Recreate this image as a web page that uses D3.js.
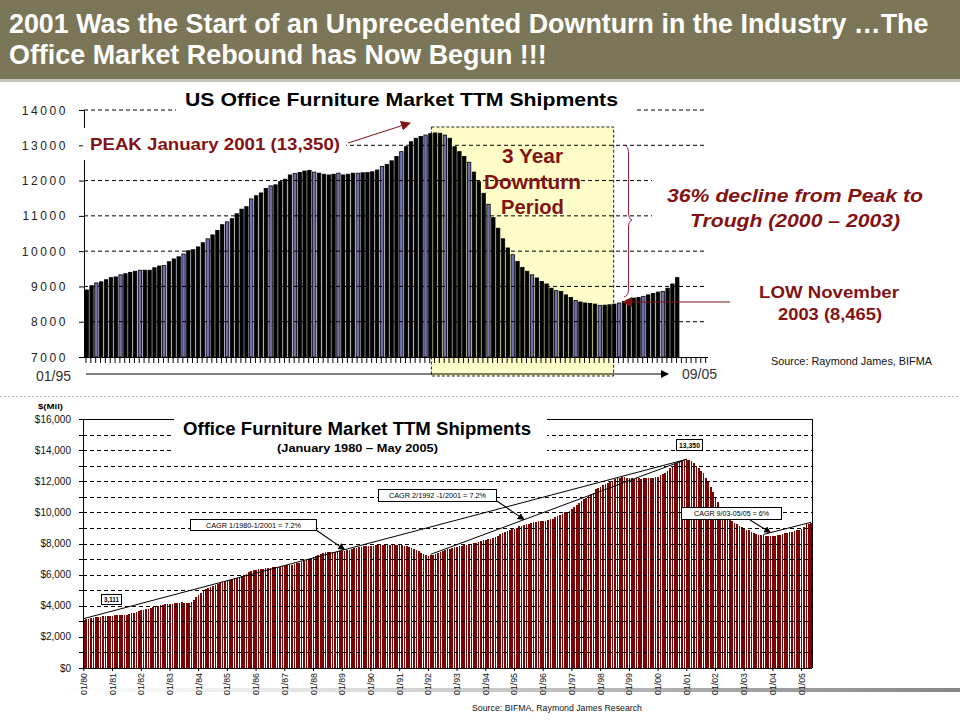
<!DOCTYPE html>
<html><head><meta charset="utf-8">
<script src="https://cdn.jsdelivr.net/npm/d3@7"></script>
<style>
body{margin:0;background:#fff}
svg{display:block}
text{font-family:"Liberation Sans",Arial,Helvetica,sans-serif}
</style>
</head><body>
<svg id="c" width="960" height="720"></svg>
<script>
// ---------------- DATA ----------------
const titleLines = [
  "2001 Was the Start of an Unprecedented Downturn in the Industry \u2026The",
  "Office Market Rebound has Now Begun !!!"
];
const topTitle = "US Office Furniture Market TTM Shipments";
const topYTicks = [7000, 8000, 9000, 10000, 11000, 12000, 13000, 14000];
const topAxisStart = "01/95", topAxisEnd = "09/05";
const topMonthCount = 129;          // 01/95 .. 09/05 tick slots
const topBarCount = 123;            // bars shown 01/95 .. 03/05

// TTM shipments ($ mil), monthly, Jan 1980 - Dec 1994
const shipments8094 = [
  3111,3150,3180,3200,3230,3260,3280,3300,3310,3330,3340,3350,
  3360,3380,3400,3390,3380,3400,3430,3470,3510,3550,3600,3650,
  3700,3740,3780,3820,3870,3920,3970,4010,4040,4070,4090,4100,
  4110,4140,4170,4190,4200,4210,4180,4150,4160,4250,4400,4550,
  4700,4850,4980,5080,5160,5230,5300,5360,5420,5480,5530,5580,
  5640,5680,5720,5760,5800,5850,5900,5960,6050,6150,6230,6280,
  6310,6340,6360,6380,6400,6420,6440,6460,6480,6500,6520,6550,
  6580,6600,6620,6650,6680,6720,6770,6830,6890,6950,7020,7080,
  7130,7200,7270,7340,7400,7440,7460,7470,7480,7480,7490,7500,
  7520,7540,7570,7600,7640,7680,7720,7750,7780,7810,7830,7850,
  7860,7870,7880,7890,7890,7900,7910,7920,7930,7930,7920,7910,
  7900,7880,7850,7810,7760,7700,7640,7580,7500,7420,7350,7280,
  7220,7240,7280,7330,7390,7450,7510,7570,7620,7670,7720,7760,
  7800,7830,7860,7890,7920,7950,7980,8020,8060,8110,8160,8200,
  8230,8270,8320,8380,8440,8510,8580,8650,8720,8790,8850,8910
];
// TTM shipments ($ mil), monthly, Jan 1995 - May 2005
const shipments9505 = [
  8900,9020,9100,9130,9190,9250,9270,9330,9360,9400,9430,9460,
  9460,9460,9530,9580,9590,9700,9780,9840,9920,10010,10040,10120,
  10240,10350,10460,10590,10750,10830,10920,11060,11190,11260,11480,11570,
  11650,11780,11850,11880,11970,12040,12160,12200,12230,12270,12290,12240,
  12210,12180,12160,12180,12210,12160,12180,12210,12210,12220,12230,12250,
  12300,12400,12460,12560,12680,12820,12960,13100,13200,13250,13290,13330,
  13350,13340,13290,13200,12960,12820,12680,12520,12240,11970,11640,11330,
  10950,10650,10350,10090,9900,9710,9540,9430,9330,9240,9140,9070,
  8950,8880,8860,8760,8690,8600,8560,8530,8520,8500,8465,8470,
  8480,8500,8530,8570,8620,8670,8690,8720,8760,8800,8840,8860,
  8950,9070,9250,9280,9300
];
const bottomTitle = "Office Furniture Market TTM Shipments";
const bottomSubtitle = "(January 1980 \u2013 May 2005)";
const bottomYTicks = [0, 2000, 4000, 6000, 8000, 10000, 12000, 14000, 16000];
const yearLabels = ["01/80","01/81","01/82","01/83","01/84","01/85","01/86","01/87","01/88",
  "01/89","01/90","01/91","01/92","01/93","01/94","01/95","01/96","01/97","01/98","01/99",
  "01/00","01/01","01/02","01/03","01/04","01/05"];
// trend lines: [start month index, end month index] from Jan 1980
const trendLines = [[0, 252], [145, 252], [284, 304]];

// ---------------- SETUP ----------------
const svg = d3.select("#c");
const RED = "#831212";
const defs = svg.append("defs");
function marker(id, color, size) {
  defs.append("marker").attr("id", id).attr("viewBox", "0 0 10 10")
    .attr("refX", 9).attr("refY", 5).attr("markerWidth", size).attr("markerHeight", size)
    .attr("orient", "auto").attr("markerUnits", "userSpaceOnUse")
    .append("path").attr("d", "M0,0 L10,5 L0,10 z").attr("fill", color);
}
marker("arRed", RED, 10);
marker("arBlack", "#000", 8);
marker("arBlackS", "#000", 7);
const grad = defs.append("linearGradient").attr("id", "gband").attr("x1", "0").attr("x2", "1");
grad.append("stop").attr("offset", "0").attr("stop-color", "#fff");
grad.append("stop").attr("offset", "0.2").attr("stop-color", "#ececec");
grad.append("stop").attr("offset", "1").attr("stop-color", "#858585");

// fit text to a width by horizontal scaling (keeps true bounding box)
function fitText(sel, x, y, width) {
  const w = sel.node().getComputedTextLength();
  const sx = width / w;
  sel.attr("x", 0).attr("y", 0).attr("transform", `translate(${x},${y}) scale(${sx},1)`);
  return sel;
}

// ---------------- TITLE BAR ----------------
svg.append("rect").attr("x", 0).attr("y", 0).attr("width", 960).attr("height", 79).attr("fill", "#7a7657");
svg.append("rect").attr("x", 0).attr("y", 79).attr("width", 960).attr("height", 3).attr("fill", "#c4c3bb");
[[33, 920], [64, 538]].forEach(([y, len], i) => {
  const t = svg.append("text").text(titleLines[i])
    .attr("fill", "#fff").attr("font-weight", "bold").attr("font-size", 28);
  fitText(t, 9, y, len);
});

// ---------------- TOP CHART ----------------
const months = d3.range(topMonthCount);
const xT = d3.scaleBand().domain(months).range([85, 708]).paddingInner(0.3).paddingOuter(0);
const yT = d3.scaleLinear().domain([7000, 14000]).range([357, 110]);
const topG = svg.append("g");

// yellow downturn box (Dec 2000 .. Nov 2003)
const boxX0 = xT(71) + xT.bandwidth() / 2 + 1, boxX1 = xT(109) + 1;
topG.append("rect").attr("x", boxX0).attr("y", 127).attr("width", boxX1 - boxX0).attr("height", 249)
  .attr("fill", "#fefdc8").attr("stroke", "#222").attr("stroke-width", 1).attr("stroke-dasharray", "3,2");

// bars
const topData = shipments9505.slice(0, topBarCount);
topG.append("g").selectAll("rect").data(topData).join("rect")
  .attr("x", (d, i) => xT(i)).attr("width", xT.bandwidth())
  .attr("y", d => yT(d)).attr("height", d => yT(7000) - yT(d))
  .attr("fill", (d, i) => (i >= 2 && Math.floor((i - 2) / 4.5) !== Math.floor((i - 3) / 4.5)) ? "#6f6fb2" : "#000")
  .attr("stroke", "#000").attr("stroke-width", 0.8);

// gridlines
topG.append("g").selectAll("line").data(topYTicks.slice(1)).join("line")
  .attr("x1", 84).attr("x2", 707).attr("y1", d => yT(d)).attr("y2", d => yT(d))
  .attr("stroke", "#000").attr("stroke-width", 1).attr("stroke-dasharray", "4,3");

// axes
topG.append("line").attr("x1", 84.5).attr("x2", 84.5).attr("y1", yT(14000)).attr("y2", yT(7000)).attr("stroke", "#000");
topG.append("line").attr("x1", 84).attr("x2", 708).attr("y1", yT(7000) + .5).attr("y2", yT(7000) + .5).attr("stroke", "#000");
topG.append("g").selectAll("line").data(months).join("line")
  .attr("x1", d => xT(d) + 1).attr("x2", d => xT(d) + 1).attr("y1", 357).attr("y2", 363).attr("stroke", "#000");
topG.append("g").selectAll("line").data(topYTicks).join("line")
  .attr("x1", 79).attr("x2", 84).attr("y1", d => yT(d) + .5).attr("y2", d => yT(d) + .5).attr("stroke", "#000");
topG.append("g").selectAll("text").data(topYTicks).join("text")
  .attr("x", 68).attr("y", d => yT(d) + 4.5).attr("text-anchor", "end")
  .attr("font-size", 12).attr("letter-spacing", 2.6).attr("fill", "#222").text(d => d);

// time arrow
topG.append("line").attr("x1", 86).attr("x2", 668).attr("y1", 374).attr("y2", 374)
  .attr("stroke", "#000").attr("stroke-width", 1.2).attr("marker-end", "url(#arBlack)");
topG.append("text").attr("x", 36).attr("y", 381).attr("font-size", 14).attr("fill", "#333").text(topAxisStart);
topG.append("text").attr("x", 682).attr("y", 379).attr("font-size", 14).attr("fill", "#333").text(topAxisEnd);

// title with white background
topG.append("rect").attr("x", 176).attr("y", 86).attr("width", 458).attr("height", 30).attr("fill", "#fff");
topG.append("text").attr("x", 185).attr("y", 106).attr("font-size", 18.5).attr("font-weight", "bold")
  .attr("textLength", 433).attr("lengthAdjust", "spacingAndGlyphs").text(topTitle);

// PEAK annotation
topG.append("rect").attr("x", 83).attr("y", 128).attr("width", 263).attr("height", 32).attr("fill", "#fff");
topG.append("text").attr("x", 90).attr("y", 150).attr("font-size", 17).attr("font-weight", "bold").attr("fill", RED)
  .attr("textLength", 250).attr("lengthAdjust", "spacingAndGlyphs").text("PEAK January 2001 (13,350)");
topG.append("line").attr("x1", 348).attr("y1", 143).attr("x2", 410).attr("y2", 123)
  .attr("stroke", RED).attr("stroke-width", 1).attr("marker-end", "url(#arRed)");

// 3 Year Downturn Period
[["3 Year", 163, 61], ["Downturn", 189, 97], ["Period", 214, 63]].forEach(([t, y, w]) => {
  topG.append("text").attr("x", 532.5 - w / 2).attr("y", y).attr("font-size", 20).attr("font-weight", "bold")
    .attr("fill", RED).attr("textLength", w).attr("lengthAdjust", "spacingAndGlyphs").text(t);
});

// brace
topG.append("path")
  .attr("d", "M624,145 Q628.5,146 628.5,153 L628.5,212 Q628.5,219 632,220 Q628.5,221 628.5,228 L628.5,289 Q628.5,296 624,297")
  .attr("fill", "none").attr("stroke", "#a0203a").attr("stroke-width", 1);

// 36% decline text
topG.append("rect").attr("x", 652).attr("y", 165).attr("width", 290).attr("height", 72).attr("fill", "#fff");
topG.append("text").attr("x", 667).attr("y", 202).attr("font-size", 19).attr("font-weight", "bold").attr("font-style", "italic")
  .attr("fill", RED).attr("textLength", 256).attr("lengthAdjust", "spacingAndGlyphs").text("36% decline from Peak to");
topG.append("text").attr("x", 690).attr("y", 227).attr("font-size", 19).attr("font-weight", "bold").attr("font-style", "italic")
  .attr("fill", RED).attr("textLength", 210).attr("lengthAdjust", "spacingAndGlyphs").text("Trough (2000 \u2013 2003)");

// LOW annotation
topG.append("line").attr("x1", 730).attr("y1", 302).attr("x2", 623).attr("y2", 302)
  .attr("stroke", RED).attr("stroke-width", 1).attr("marker-end", "url(#arRed)");
topG.append("text").attr("x", 759).attr("y", 298).attr("font-size", 17).attr("font-weight", "bold").attr("fill", RED)
  .attr("textLength", 140).attr("lengthAdjust", "spacingAndGlyphs").text("LOW November");
topG.append("text").attr("x", 778).attr("y", 320).attr("font-size", 17).attr("font-weight", "bold").attr("fill", RED)
  .attr("textLength", 104).attr("lengthAdjust", "spacingAndGlyphs").text("2003 (8,465)");
topG.append("text").attr("x", 771).attr("y", 365).attr("font-size", 11).attr("fill", "#111")
  .attr("textLength", 161).attr("lengthAdjust", "spacingAndGlyphs").text("Source:  Raymond James, BIFMA");

// separator
svg.append("line").attr("x1", 0).attr("x2", 960).attr("y1", 396.5).attr("y2", 396.5)
  .attr("stroke", "#b8b8b8").attr("stroke-dasharray", "2,2");

// ---------------- BOTTOM CHART ----------------
const allShip = shipments8094.concat(shipments9505);
const xB = d3.scaleBand().domain(d3.range(allShip.length)).range([83, 812]).paddingInner(0.32).paddingOuter(0);
const yB = d3.scaleLinear().domain([0, 16000]).range([668, 419]);
const bot = svg.append("g");
const cx = i => xB(i) + xB.bandwidth() / 2;

bot.append("g").attr("shape-rendering", "crispEdges").selectAll("rect").data(allShip).join("rect")
  .attr("x", (d, i) => xB(i)).attr("width", xB.bandwidth())
  .attr("y", d => yB(d)).attr("height", d => yB(0) - yB(d)).attr("fill", "#7b0404");

// dashed gridlines every 1000
bot.append("g").selectAll("line").data(d3.range(1000, 16000, 1000)).join("line")
  .attr("x1", 83).attr("x2", 812).attr("y1", d => Math.round(yB(d)) + .5).attr("y2", d => Math.round(yB(d)) + .5)
  .attr("stroke", "#000").attr("stroke-dasharray", "4,3");

// frame
bot.append("line").attr("x1", 83).attr("x2", 812.5).attr("y1", 419.5).attr("y2", 419.5).attr("stroke", "#000");
bot.append("line").attr("x1", 812.5).attr("x2", 812.5).attr("y1", 419).attr("y2", 668).attr("stroke", "#000");
bot.append("line").attr("x1", 83.5).attr("x2", 83.5).attr("y1", 419).attr("y2", 668).attr("stroke", "#000");
bot.append("line").attr("x1", 83).attr("x2", 812).attr("y1", 668.5).attr("y2", 668.5).attr("stroke", "#000");
bot.append("g").selectAll("line").data(d3.range(0, 16001, 1000)).join("line")
  .attr("x1", 79).attr("x2", 83).attr("y1", d => Math.round(yB(d)) + .5).attr("y2", d => Math.round(yB(d)) + .5).attr("stroke", "#000");
bot.append("g").selectAll("text").data(bottomYTicks).join("text")
  .attr("x", 71).attr("y", d => yB(d) + 3.5).attr("text-anchor", "end").attr("font-size", 10).attr("fill", "#111")
  .text(d => "$" + d3.format(",")(d));
bot.append("text").attr("x", 38).attr("y", 409).attr("font-size", 8).attr("font-weight", "bold")
  .attr("textLength", 25).attr("lengthAdjust", "spacingAndGlyphs").text("$(Mil)");

// gray band behind labels
bot.append("rect").attr("x", 60).attr("y", 688).attr("width", 900).attr("height", 4).attr("fill", "url(#gband)");

// year labels and ticks
bot.append("g").selectAll("line").data(yearLabels).join("line")
  .attr("x1", (d, i) => cx(i * 12)).attr("x2", (d, i) => cx(i * 12)).attr("y1", 668).attr("y2", 671).attr("stroke", "#000");
bot.append("g").selectAll("text").data(yearLabels).join("text")
  .attr("transform", (d, i) => `translate(${cx(i * 12) + 3},673) rotate(-90)`)
  .attr("text-anchor", "end").attr("font-size", 8.5).attr("fill", "#111")
  .attr("textLength", 22).attr("lengthAdjust", "spacingAndGlyphs").text(d => d);

bot.append("text").attr("x", 472).attr("y", 711).attr("font-size", 8.5).attr("fill", "#111")
  .attr("textLength", 170).attr("lengthAdjust", "spacingAndGlyphs").text("Source: BIFMA, Raymond James Research");

// trend lines
trendLines.forEach(([a, b]) => {
  bot.append("line").attr("x1", cx(a)).attr("y1", yB(allShip[a]) - 1).attr("x2", cx(b)).attr("y2", yB(allShip[b]) - 1)
    .attr("stroke", "#000").attr("stroke-width", 1);
});
function onTrend(k, m) {
  const [a, b] = trendLines[k];
  const t = (m - a) / (b - a);
  return [cx(m), yB(allShip[a] + t * (allShip[b] - allShip[a])) - 1];
}

// title block
bot.append("rect").attr("x", 174).attr("y", 413).attr("width", 373).attr("height", 45).attr("fill", "#fff");
bot.append("text").attr("x", 183).attr("y", 435).attr("font-size", 18).attr("font-weight", "bold")
  .attr("textLength", 348).attr("lengthAdjust", "spacingAndGlyphs").text(bottomTitle);
bot.append("text").attr("x", 277).attr("y", 452).attr("font-size", 11.5).attr("font-weight", "bold")
  .attr("textLength", 161).attr("lengthAdjust", "spacingAndGlyphs").text(bottomSubtitle);

// annotation boxes
function box(x, y, w, h, t, tw, bold) {
  bot.append("rect").attr("x", x + .5).attr("y", y + .5).attr("width", w).attr("height", h)
    .attr("fill", "#fff").attr("stroke", "#000").attr("stroke-width", 1);
  bot.append("text").attr("x", x + w / 2 - tw / 2 + .5).attr("y", y + h / 2 + 3)
    .attr("font-size", 7).attr("font-weight", bold ? "bold" : "normal")
    .attr("textLength", tw).attr("lengthAdjust", "spacingAndGlyphs").text(t);
}
function arrow(x1, y1, p) {
  bot.append("line").attr("x1", x1).attr("y1", y1).attr("x2", p[0]).attr("y2", p[1])
    .attr("stroke", "#000").attr("stroke-width", 1.1).attr("marker-end", "url(#arBlackS)");
}
arrow(316, 530, onTrend(0, 109));
arrow(497, 501, onTrend(1, 184));
arrow(750, 520, onTrend(2, 287));
box(101, 594, 20, 10, "3,111", 15, true);
box(190, 519, 126, 11, "CAGR 1/1980-1/2001 = 7.2%", 95, false);
box(378, 489, 118, 12, "CAGR 2/1992 -1/2001 = 7.2%", 97, false);
box(676, 439, 26, 11, "13,350", 21, true);
box(681, 507, 100, 12, "CAGR 9/03-05/05 = 6%", 75, false);
</script>
</body></html>
